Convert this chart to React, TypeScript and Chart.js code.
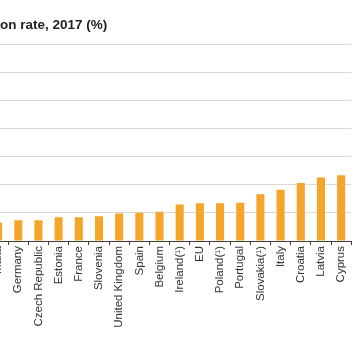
import React, { useEffect, useRef } from "react";
import { Chart, registerables } from "chart.js";

Chart.register(...registerables);

const titleText = "on rate, 2017 (%)";
const categories = [
  "Malta",
  "Germany",
  "Czech Republic",
  "Estonia",
  "France",
  "Slovenia",
  "United Kingdom",
  "Spain",
  "Belgium",
  "Ireland(¹)",
  "EU",
  "Poland(¹)",
  "Portugal",
  "Slovakia(¹)",
  "Italy",
  "Croatia",
  "Latvia",
  "Cyprus",
];
const values = [3.3, 3.7, 3.7, 4.2, 4.2, 4.4, 4.9, 5.0, 5.2, 6.5, 6.7, 6.7, 6.8, 8.3, 9.1, 10.3, 11.3, 11.7];
const yMin = 0;
const yMax = 35;
const yStep = 5;

const CANVAS_W = 376;
const CANVAS_H = 364;

export default function App() {
  const ref = useRef<HTMLCanvasElement | null>(null);

  useEffect(() => {
    const canvas = ref.current;
    if (!canvas) return;
    const chart = new Chart(canvas, {
      type: "bar",
      data: {
        labels: categories,
        datasets: [
          {
            data: values,
            backgroundColor: "#F5A52A",
            borderWidth: 0,
            barPercentage: 0.4,
            categoryPercentage: 1,
          },
        ],
      },
      options: {
        animation: false,
        responsive: false,
        devicePixelRatio: 1,
        layout: { padding: { left: 8, right: 2.5, top: 44, bottom: 0 } },
        plugins: {
          legend: { display: false },
          tooltip: { enabled: false },
          title: { display: false },
        },
        scales: {
          x: {
            type: "category",
            offset: true,
            grid: {
              display: true,
              drawOnChartArea: false,
              drawTicks: true,
              tickLength: 4,
              color: "#404040",
              offset: true,
            },
            border: { display: true, color: "#404040", width: 1 },
            ticks: {
              autoSkip: false,
              maxRotation: 90,
              minRotation: 90,
              padding: 1,
              color: "#333333",
              font: { family: "'Liberation Sans', Arial, sans-serif", size: 11.5 },
            },
            afterFit: (scale: any) => {
              scale.height = CANVAS_H - 241;
            },
          },
          y: {
            min: yMin,
            max: yMax,
            ticks: { display: false, stepSize: yStep },
            grid: { color: "#d9d9d9", drawTicks: false, lineWidth: 1 },
            border: { display: false },
            afterFit: (scale: any) => {
              scale.width = 0;
            },
          },
        },
      },
    });
    return () => chart.destroy();
  }, []);

  return (
    <div
      style={{
        position: "absolute",
        left: 0,
        top: 0,
        width: 356,
        height: 364,
        overflow: "hidden",
        background: "#ffffff",
      }}
    >
      <canvas
        ref={ref}
        width={CANVAS_W}
        height={CANVAS_H}
        style={{ position: "absolute", left: -20, top: 0, width: CANVAS_W, height: CANVAS_H }}
      />
      <div
        style={{
          position: "absolute",
          left: 0,
          top: 18,
          fontFamily: "'Liberation Sans', Arial, sans-serif",
          fontWeight: "bold",
          fontSize: 13.5,
          lineHeight: "13.5px",
          color: "#222222",
          whiteSpace: "nowrap",
        }}
      >
        {titleText}
      </div>
    </div>
  );
}
